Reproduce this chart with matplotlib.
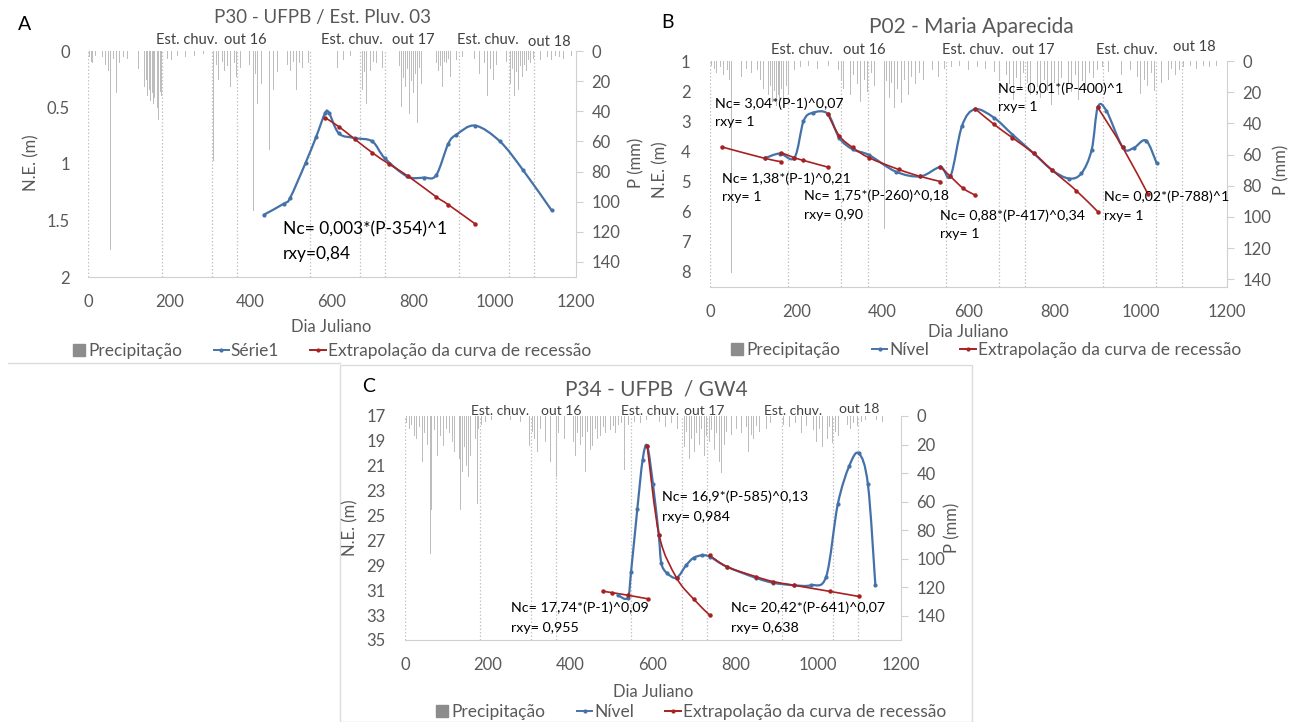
import numpy as np
import matplotlib.pyplot as plt
from matplotlib.path import Path
from matplotlib.patches import PathPatch, Rectangle
from matplotlib.lines import Line2D

plt.rcParams['font.family'] = ['Lato', 'DejaVu Sans']

W, H = 1291, 722
BLUE = '#4472a8'
RED = '#a82020'
GRAY = '#595959'
BAR = '#bdbdbd'

# marcos: 1 jan, 1 jul, 1 nov de cada ano
marcos = [1, 182, 305, 366, 547, 670, 731, 912, 1035, 1096]

# ---- A: P30 - UFPB / Est. Pluv. 03 ----
chuva_a = [(3, 4), (8, 7), (12, 8), (18, 3), (27, 6), (35, 4), (44, 9), (50, 13), (56, 132), (62, 5),
           (70, 28), (78, 8), (88, 4), (98, 5), (108, 3), (118, 8), (124, 12), (128, 17), (133, 22),
           (139, 24), (143, 19), (147, 30), (151, 26), (154, 33), (158, 28), (161, 35), (164, 31),
           (167, 42), (171, 38), (174, 46), (178, 27), (181, 30), (187, 13), (195, 5), (205, 6),
           (220, 3), (240, 4), (262, 3), (285, 2), (300, 5), (308, 73), (315, 9), (321, 19), (330, 7),
           (336, 13), (344, 10), (351, 24), (360, 8), (366, 17), (374, 11), (381, 30), (391, 13),
           (398, 9), (406, 106), (412, 15), (417, 35), (427, 22), (433, 12), (440, 37), (447, 66),
           (457, 26), (465, 14), (472, 53), (482, 19), (490, 9), (497, 13), (505, 7), (513, 26),
           (520, 8), (528, 11), (543, 8), (563, 6), (583, 4), (600, 3), (614, 11), (629, 6), (645, 3),
           (654, 4), (664, 9), (674, 26), (679, 14), (685, 35), (695, 13), (703, 7), (710, 8), (718, 5),
           (725, 11), (733, 9), (740, 19), (745, 12), (750, 30), (755, 14), (760, 22), (766, 10),
           (771, 37), (776, 18), (781, 24), (786, 12), (791, 42), (796, 20), (801, 28), (806, 15),
           (811, 48), (816, 11), (821, 22), (826, 16), (831, 40), (836, 9), (841, 17), (846, 12),
           (851, 30), (856, 8), (861, 13), (866, 10), (872, 24), (877, 7), (882, 8), (887, 5), (892, 17),
           (900, 6), (907, 6), (920, 4), (937, 11), (950, 5), (963, 15), (975, 8), (983, 30), (990, 12),
           (998, 19), (1005, 9), (1013, 64), (1018, 10), (1023, 15), (1030, 7), (1038, 22), (1043, 12),
           (1048, 30), (1053, 14), (1059, 26), (1064, 10), (1069, 17), (1074, 9), (1079, 13), (1084, 6),
           (1089, 8), (1096, 5), (1104, 15), (1112, 6), (1119, 8), (1130, 4), (1140, 6), (1150, 3),
           (1160, 4), (1170, 5), (1178, 13), (1188, 3)]
nivel_a_dia = [432, 482, 497, 535, 561, 583, 593, 617, 656, 699, 730, 785, 826, 856, 886, 906, 952,
               1013, 1069, 1140]
nivel_a = [1.45, 1.35, 1.30, 0.99, 0.76, 0.55, 0.55, 0.73, 0.77, 0.80, 0.95, 1.11, 1.12, 1.10, 0.82,
           0.74, 0.66, 0.80, 1.05, 1.41]
rec_a_dia = [583, 617, 656, 699, 740, 788, 856, 886, 952]
rec_a = [0.59, 0.67, 0.78, 0.90, 1.00, 1.11, 1.29, 1.36, 1.53]

# ---- B: P02 - Maria Aparecida ----
chuva_b = [(4, 3), (10, 5), (16, 8), (24, 4), (32, 9), (40, 6), (46, 12), (50, 136), (58, 16), (65, 7),
           (74, 10), (84, 5), (96, 8), (110, 6), (118, 12), (124, 18), (130, 14), (136, 22), (141, 16),
           (146, 26), (150, 19), (154, 29), (158, 22), (162, 25), (166, 18), (170, 27), (174, 21),
           (178, 16), (182, 21), (188, 10), (196, 6), (210, 4), (228, 3), (250, 5), (275, 3), (298, 6),
           (305, 12), (310, 18), (318, 10), (326, 22), (334, 9), (342, 15), (350, 26), (358, 12),
           (366, 20), (374, 8), (382, 16), (390, 11), (405, 108), (410, 13), (416, 24), (422, 14),
           (428, 30), (436, 18), (444, 27), (452, 12), (460, 22), (468, 10), (476, 15), (486, 8),
           (496, 12), (506, 9), (516, 6), (530, 10), (545, 5), (560, 4), (580, 3), (600, 6), (620, 4),
           (640, 5), (660, 7), (672, 12), (680, 20), (688, 9), (696, 15), (704, 25), (712, 11), (720, 18),
           (728, 8), (736, 14), (744, 22), (752, 10), (760, 17), (768, 24), (776, 12), (784, 19),
           (792, 28), (800, 14), (808, 22), (816, 11), (824, 32), (832, 15), (840, 20), (848, 9),
           (856, 25), (864, 13), (872, 18), (880, 8), (890, 11), (900, 6), (912, 4), (925, 7), (940, 5),
           (955, 9), (968, 14), (976, 6), (984, 18), (992, 10), (1000, 21), (1008, 12), (1016, 16),
           (1024, 8), (1032, 19), (1040, 11), (1048, 14), (1056, 7), (1064, 12), (1072, 5), (1080, 9),
           (1090, 6), (1100, 4), (1115, 3), (1130, 5), (1145, 3), (1160, 4), (1175, 3)]
nivel_b_dia = [127, 162, 196, 217, 238, 273, 300, 331, 369, 431, 488, 535, 558, 585, 615, 659, 702,
               751, 794, 833, 862, 886, 900, 920, 958, 983, 1012, 1037]
nivel_b = [4.23, 4.07, 4.21, 3.00, 2.72, 2.75, 3.55, 3.93, 4.12, 4.67, 4.83, 4.52, 4.83, 3.15, 2.60,
           2.88, 3.44, 4.06, 4.62, 4.90, 4.73, 3.94, 2.54, 2.65, 3.87, 3.89, 3.64, 4.40]
rec_b = [
    ([27, 127, 165], [3.85, 4.23, 4.34]),
    ([165, 196, 217, 273], [4.04, 4.21, 4.30, 4.52]),
    ([273, 300, 331, 369, 438, 488, 535], [2.75, 3.48, 3.87, 4.21, 4.60, 4.83, 5.00]),
    ([535, 558, 588, 615], [4.52, 4.83, 5.23, 5.45]),
    ([615, 659, 702, 751, 794, 850, 900], [2.58, 3.10, 3.55, 4.06, 4.62, 5.30, 6.00]),
    ([900, 958, 1016], [2.54, 3.87, 5.40]),
]

# ---- C: P34 - UFPB / GW4 ----
chuva_c = [(4, 5), (10, 9), (16, 6), (22, 14), (28, 16), (35, 8), (42, 32), (48, 12), (55, 20), (61, 97),
           (65, 66), (72, 10), (79, 28), (86, 14), (93, 21), (100, 9), (108, 12), (114, 18), (120, 25),
           (126, 15), (132, 30), (135, 66), (139, 39), (144, 22), (148, 35), (153, 43), (158, 28),
           (162, 34), (167, 20), (171, 16), (176, 62), (178, 9), (185, 6), (195, 4), (210, 3), (230, 5),
           (255, 3), (280, 4), (295, 8), (301, 21), (308, 11), (314, 16), (320, 25), (327, 9), (334, 12),
           (340, 18), (346, 10), (352, 32), (358, 14), (366, 43), (372, 12), (380, 34), (386, 16),
           (392, 22), (399, 50), (404, 117), (408, 18), (412, 28), (418, 12), (424, 20), (430, 15),
           (436, 39), (442, 11), (448, 24), (454, 21), (460, 9), (466, 16), (473, 14), (480, 8), (486, 12),
           (491, 32), (498, 10), (505, 7), (510, 12), (517, 6), (524, 5), (531, 38), (540, 6), (555, 4),
           (570, 5), (585, 3), (600, 6), (615, 4), (630, 8), (645, 5), (660, 9), (670, 14), (676, 22),
           (682, 11), (688, 30), (694, 16), (700, 25), (706, 12), (712, 20), (718, 9), (724, 28),
           (730, 14), (736, 18), (742, 10), (748, 24), (754, 12), (760, 32), (766, 40), (772, 20),
           (778, 11), (784, 27), (790, 13), (796, 22), (802, 9), (808, 35), (814, 12), (820, 18), (826, 8),
           (832, 25), (838, 13), (844, 16), (850, 7), (858, 11), (866, 6), (875, 9), (885, 5), (900, 4),
           (915, 6), (930, 8), (945, 5), (960, 12), (972, 7), (980, 15), (988, 10), (995, 18), (1002, 9),
           (1010, 22), (1016, 12), (1022, 16), (1028, 8), (1035, 19), (1042, 11), (1048, 14), (1055, 7),
           (1062, 12), (1070, 6), (1078, 9), (1086, 5), (1095, 7), (1105, 4), (1115, 3), (1125, 5),
           (1140, 3), (1155, 4)]
nivel_c_dia = [515, 539, 547, 562, 575, 586, 600, 614, 620, 633, 657, 680, 698, 718, 737, 778, 848,
               890, 941, 982, 1019, 1047, 1075, 1098, 1120, 1138]
nivel_c = [31.4, 31.6, 29.5, 24.5, 20.5, 19.4, 22.5, 26.6, 28.8, 29.6, 30.0, 29.0, 28.4, 28.2, 28.3,
           29.1, 30.0, 30.4, 30.6, 30.6, 29.9, 24.1, 21.0, 20.0, 22.5, 30.6]
rec_c = [
    ([478, 502, 539, 589], [31.08, 31.2, 31.4, 31.7]),
    ([586, 615, 657, 698, 737], [19.4, 26.6, 30.0, 31.7, 33.0]),
    ([737, 778, 848, 890, 941, 1029, 1098], [28.2, 29.1, 29.9, 30.3, 30.6, 31.1, 31.5]),
]


def rect(x0, x1, y0, y1):
    return [x0 / W, 1 - y1 / H, (x1 - x0) / W, (y1 - y0) / H]


def suave(ax, x, y, color, lw, ms):
    # curva suavizada (Bezier pelos pontos), como a linha suavizada do Excel
    p = np.column_stack([x, y]).astype(float)
    n = len(p)
    verts, codes = [p[0]], [Path.MOVETO]
    for i in range(n - 1):
        p0 = p[i - 1] if i > 0 else p[i]
        p3 = p[i + 2] if i + 2 < n else p[i + 1]
        verts += [p[i] + (p[i + 1] - p0) / 6, p[i + 1] - (p3 - p[i]) / 6, p[i + 1]]
        codes += [Path.CURVE4] * 3
    ax.add_patch(PathPatch(Path(verts, codes), fill=False, edgecolor=color, lw=lw,
                           capstyle='round', joinstyle='round', zorder=3))
    ax.plot(x, y, 'o', ms=ms, color=color, zorder=4)


def painel(box, ylim, yticks, ylabels, plim, chuva, pad_l):
    ax = fig.add_axes(box)
    ax2 = ax.twinx()
    ax.set_zorder(ax2.get_zorder() + 1)
    ax.patch.set_visible(False)
    ax2.bar([d for d, _ in chuva], [v for _, v in chuva], width=2.0, color=BAR, linewidth=0)
    ax.set_xlim(0, 1200)
    ax.set_ylim(*ylim)
    ax2.set_ylim(*plim)
    ax.set_xticks(range(0, 1201, 200))
    ax.set_yticks(yticks)
    ax.set_yticklabels(ylabels)
    ax2.set_yticks(range(0, 141, 20))
    for a in (ax, ax2):
        for s in a.spines.values():
            s.set_visible(False)
    ax2.spines['right'].set_visible(True)
    ax2.spines['right'].set_color('#d0d0d0')
    ax2.spines['bottom'].set_visible(True)
    ax2.spines['bottom'].set_color('#d0d0d0')
    ax.tick_params(axis='x', length=0, pad=12, labelsize=12, labelcolor=GRAY)
    ax.tick_params(axis='y', length=0, pad=pad_l, labelsize=12, labelcolor=GRAY)
    ax2.tick_params(axis='y', length=5, color='#d0d0d0', pad=6, labelsize=12, labelcolor=GRAY)
    for m in marcos:
        ax.axvline(m, color='#c4c4c4', lw=0.9, ls=(0, (1.2, 1.6)), zorder=1)
    return ax


def legenda(cx, cy, nome):
    h = [Line2D([], [], ls='none', marker='s', ms=8, color='#8c8c8c'),
         Line2D([], [], color=BLUE, lw=1.4, marker='o', ms=2),
         Line2D([], [], color=RED, lw=1.4, marker='o', ms=2)]
    fig.legend(h, ['Precipitação', nome, 'Extrapolação da curva de recessão'],
               loc='center', bbox_to_anchor=(cx / W, 1 - cy / H), ncol=3, frameon=False,
               fontsize=12.5, labelcolor=GRAY, handlelength=0.9, handletextpad=0.1,
               columnspacing=1.8)


def estacoes(ax, y, y18, xs, fs):
    labels = ['Est. chuv.', 'out 16', 'Est. chuv.', 'out 17', 'Est. chuv.', 'out 18']
    for i, (lab, x) in enumerate(zip(labels, xs)):
        ax.text(x, y18 if i == 5 else y, lab, ha='center', va='center', fontsize=fs,
                color='#404040', clip_on=False)


fig = plt.figure(figsize=(W / 100, H / 100), dpi=100)

# molduras claras
fig.add_artist(Line2D([8 / W, 340 / W], [1 - 363 / H, 1 - 363 / H], color='#dcdcdc', lw=1))
fig.add_artist(Rectangle((340 / W, 0), (972 - 340) / W, 1 - 365 / H, transform=fig.transFigure,
                         fill=False, edgecolor='#dcdcdc', lw=1))

# ---- A ----
axA = painel(rect(88, 576, 51, 277), (2, 0), [0, 0.5, 1, 1.5, 2], ['0', '0.5', '1', '1.5', '2'],
             (150, 0), chuva_a, 13)
suave(axA, nivel_a_dia, nivel_a, BLUE, 1.6, 2)
suave(axA, rec_a_dia, rec_a, RED, 1.2, 2.2)
estacoes(axA, -0.1, -0.08, [243, 386, 649, 799, 983, 1134], 10.5)
axA.text(480, 1.58, 'Nc= 0,003*(P-354)^1', fontsize=12.5, va='center', color='black')
axA.text(480, 1.80, 'rxy=0,84', fontsize=12.5, va='center', color='black')
fig.text(25 / W, 1 - 25 / H, 'A', fontsize=14, ha='center', va='center')
fig.text(323 / W, 1 - 18 / H, 'P30 - UFPB / Est. Pluv. 03', fontsize=13.5, ha='center',
         va='center', color=GRAY)
fig.text(31 / W, 1 - 163 / H, 'N.E. (m)', rotation=90, fontsize=12, ha='center', va='center',
         color=GRAY)
fig.text(636 / W, 1 - 163 / H, 'P (mm)', rotation=90, fontsize=12, ha='center', va='center',
         color=GRAY)
fig.text(331 / W, 1 - 327 / H, 'Dia Juliano', fontsize=12, ha='center', va='center', color=GRAY)
legenda(331, 351, 'Série1')

# ---- B ----
axB = painel(rect(710, 1227, 61, 287), (8.5, 1), range(1, 9), [str(v) for v in range(1, 9)],
             (145, 0), chuva_b, 14)
suave(axB, nivel_b_dia, nivel_b, BLUE, 1.6, 2)
for dx, ny in rec_b:
    suave(axB, dx, ny, RED, 1.2, 2.2)
estacoes(axB, 0.63, 0.55, [214, 359, 611, 751, 968, 1123], 10.5)
notas_b = [(12, 2.41, 'Nc= 3,04*(P-1)^0,07', 'rxy= 1'),
           (27, 4.90, 'Nc= 1,38*(P-1)^0,21', 'rxy= 1'),
           (219, 5.48, 'Nc= 1,75*(P-260)^0,18', 'rxy= 0,90'),
           (533, 6.13, 'Nc= 0,88*(P-417)^0,34', 'rxy= 1'),
           (669, 1.92, 'Nc= 0,01*(P-400)^1', 'rxy= 1'),
           (915, 5.52, 'Nc= 0,02*(P-788)^1', 'rxy= 1')]
for x, y, l1, l2 in notas_b:
    axB.text(x, y, l1, fontsize=10.2, va='center', color='black')
    axB.text(x, y + 0.62, l2, fontsize=10.2, va='center', color='black')
fig.text(667 / W, 1 - 23 / H, 'B', fontsize=14, ha='center', va='center')
fig.text(971 / W, 1 - 27 / H, 'P02 - Maria Aparecida', fontsize=15, ha='center', va='center',
         color=GRAY)
fig.text(660 / W, 1 - 170 / H, 'N.E. (m)', rotation=90, fontsize=12, ha='center', va='center',
         color=GRAY)
fig.text(1281 / W, 1 - 170 / H, 'P (mm)', rotation=90, fontsize=12, ha='center', va='center',
         color=GRAY)
fig.text(968 / W, 1 - 332 / H, 'Dia Juliano', fontsize=12, ha='center', va='center', color=GRAY)
legenda(985, 350, 'Nível')

# ---- C ----
axC = painel(rect(405, 901, 416, 640), (35, 17), range(17, 36, 2), [str(v) for v in range(17, 36, 2)],
             (157, 0), chuva_c, 14)
suave(axC, nivel_c_dia, nivel_c, BLUE, 1.6, 2)
for dx, ny in rec_c:
    suave(axC, dx, ny, RED, 1.2, 2.2)
estacoes(axC, 16.6, 16.45, [229, 377, 593, 725, 940, 1098], 10)
notas_c = [(621, 23.5, 'Nc= 16,9*(P-585)^0,13', 'rxy= 0,984'),
           (256, 32.4, 'Nc= 17,74*(P-1)^0,09', 'rxy= 0,955'),
           (788, 32.4, 'Nc= 20,42*(P-641)^0,07', 'rxy= 0,638')]
for x, y, l1, l2 in notas_c:
    axC.text(x, y, l1, fontsize=10.3, va='center', color='black')
    axC.text(x, y + 1.6, l2, fontsize=10.3, va='center', color='black')
fig.text(369 / W, 1 - 386 / H, 'C', fontsize=14, ha='center', va='center')
fig.text(656 / W, 1 - 390 / H, 'P34 - UFPB  / GW4', fontsize=15, ha='center', va='center',
         color=GRAY)
fig.text(350 / W, 1 - 528 / H, 'N.E. (m)', rotation=90, fontsize=12, ha='center', va='center',
         color=GRAY)
fig.text(952 / W, 1 - 528 / H, 'P (mm)', rotation=90, fontsize=12, ha='center', va='center',
         color=GRAY)
fig.text(653 / W, 1 - 692 / H, 'Dia Juliano', fontsize=12, ha='center', va='center', color=GRAY)
legenda(690, 712, 'Nível')

fig.savefig('out.png', dpi=100, facecolor='white')
